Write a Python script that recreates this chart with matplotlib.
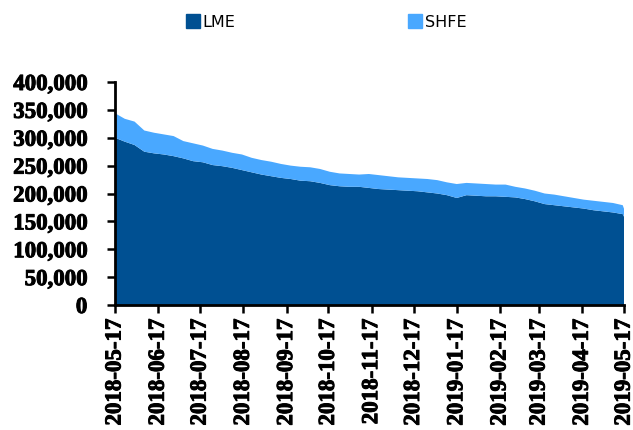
import pandas as pd
import matplotlib
matplotlib.use('Agg')
import matplotlib.pyplot as plt
import matplotlib.patheffects as pe
from matplotlib.patches import Patch
from matplotlib.ticker import FuncFormatter
import matplotlib.dates as mdates

#data (weekly readings, thousand tonnes)
dates = list(pd.date_range('2018-05-17', periods=53, freq='7D')) + [pd.Timestamp('2019-05-17')]
lme = [300, 293, 287, 275, 272, 270, 267, 263, 258, 256,
       251, 249, 246, 242, 238, 234, 231, 228, 226, 223,
       222, 219, 215, 213, 212, 212, 210, 208, 207, 206,
       205, 204, 202, 200, 197, 192, 197, 196, 195, 195,
       194, 193, 190, 186, 181, 179, 177, 175, 173, 170,
       168, 166, 163, 158]
shfe = [44, 41, 42, 38, 37, 36, 36, 31, 32, 30,
        29, 28, 27, 28, 26, 26, 26, 25, 24, 25,
        25, 25, 24, 23, 23, 22, 25, 25, 24, 23,
        23, 23, 24, 24, 23, 25, 22, 22, 22, 21,
        22, 19, 19, 19, 19, 19, 18, 17, 16, 17,
        17, 17, 16, 14]
labels = ['LME', 'SHFE']
colors = ['#005092', '#49A8FF']
xticks = pd.date_range('2018-05-17', periods=13, freq=pd.DateOffset(months=1))

lme_t = [v * 1000 for v in lme]
shfe_t = [v * 1000 for v in shfe]

#plot
plt.rcParams['font.family'] = 'Liberation Serif'
fig = plt.figure(figsize=(6.33, 4.30), dpi=100)
ax = fig.add_axes([0.1817, 0.2907, 0.8043, 0.5186])
ax.stackplot(dates, lme_t, shfe_t, colors=colors, linewidth=0)

ax.set_xlim(dates[0], dates[-1])
ax.set_ylim(0, 400000)
ax.set_yticks(range(0, 400001, 50000))
ax.yaxis.set_major_formatter(FuncFormatter(lambda v, p: f'{int(v):,}'))
ax.set_xticks(xticks)
ax.xaxis.set_major_formatter(mdates.DateFormatter('%Y-%m-%d'))

for s in ['top', 'right']:
    ax.spines[s].set_visible(False)
for s in ['left', 'bottom']:
    ax.spines[s].set_linewidth(2)
ax.tick_params(axis='both', direction='out', length=6, width=1.8, labelsize=16.5)
ax.tick_params(axis='y', pad=14)
ax.tick_params(axis='x', pad=4, labelrotation=90)

fig.canvas.draw()
thick = [pe.withStroke(linewidth=0.7, foreground='black')]
for t in ax.get_xticklabels() + ax.get_yticklabels():
    t.set_fontweight('bold')
    t.set_path_effects(thick)

handles = [Patch(facecolor=c, edgecolor=c) for c in colors]
fig.legend(handles, labels, loc='upper center', bbox_to_anchor=(0.515, 1.0), ncol=2,
           frameon=False, columnspacing=10.8, handlelength=0.9, handleheight=0.9,
           handletextpad=0.15,
           prop={'family': ['Liberation Sans Narrow', 'DejaVu Sans'], 'size': 11.5, 'weight': 'normal'})

plt.savefig('out.png', dpi=100)
